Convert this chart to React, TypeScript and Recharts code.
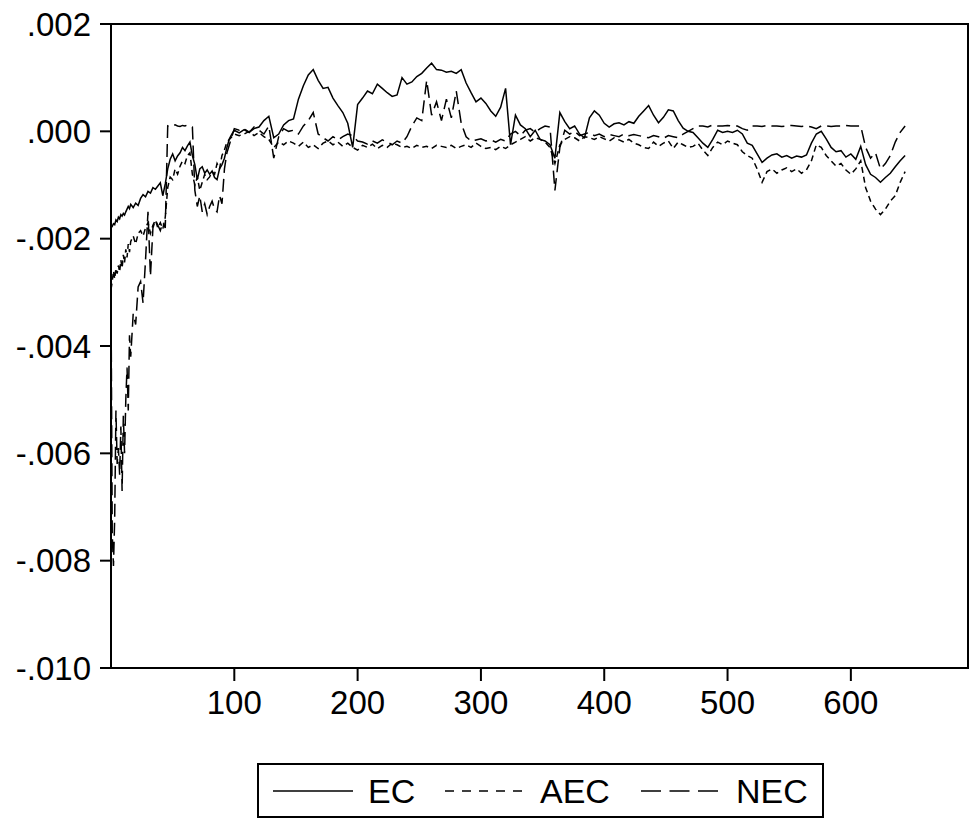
import React from "react";
import { LineChart, Line, XAxis, YAxis, ReferenceArea, Legend } from "recharts";

// observation index (x axis)
const OBS = [
  0, 1, 2, 3, 4, 5, 6, 7, 8, 9,
  10, 11, 12, 13, 14, 15, 16, 18, 20, 22,
  24, 26, 28, 30, 32, 34, 36, 38, 40, 42,
  44, 46, 48, 50, 52, 54, 56, 58, 60, 62,
  64, 66, 68, 70, 72, 74, 76, 78, 80, 82,
  84, 86, 88, 90, 92, 94, 96, 98, 100, 104,
  108, 112, 116, 120, 124, 128, 132, 136, 140, 144,
  148, 152, 156, 160, 164, 168, 172, 176, 180, 184,
  188, 192, 196, 200, 204, 208, 212, 216, 220, 224,
  228, 232, 236, 240, 244, 248, 252, 256, 260, 264,
  268, 272, 276, 280, 284, 288, 292, 296, 300, 304,
  308, 312, 316, 320, 324, 328, 332, 336, 340, 344,
  348, 352, 356, 360, 364, 368, 372, 376, 380, 384,
  388, 392, 396, 400, 404, 408, 412, 416, 420, 424,
  428, 432, 436, 440, 444, 448, 452, 456, 460, 464,
  468, 472, 476, 480, 484, 488, 492, 496, 500, 504,
  508, 512, 516, 520, 524, 528, 532, 536, 540, 544,
  548, 552, 556, 560, 564, 568, 572, 576, 580, 584,
  588, 592, 596, 600, 604, 608, 612, 616, 620, 624,
  628, 632, 636, 640, 644,
];

// values in units of 0.001
const EC = [
  -1.8, -1.77, -1.72, -1.74, -1.65, -1.68, -1.6, -1.63, -1.55, -1.58,
  -1.53, -1.56, -1.5, -1.45, -1.4, -1.44, -1.36, -1.42, -1.34, -1.38,
  -1.25, -1.18, -1.22, -1.12, -1.15, -1.05, -1.08, -1.02, -0.96, -1.2,
  -0.98, -0.7, -0.52, -0.42, -0.55, -0.46, -0.4, -0.3, -0.36, -0.27,
  -0.2, -0.45, -0.62, -0.9, -0.7, -0.66, -0.78, -0.72, -0.8, -0.74,
  -0.86, -0.9, -0.7, -0.62, -0.5, -0.3, -0.14, -0.05, 0.02, -0.03,
  0.03, -0.02, 0.05, 0.08, 0.2, 0.28, -0.12, -0.05, 0.12, 0.2,
  0.23, 0.6, 0.85, 1.05, 1.15, 0.95, 0.8, 0.82, 0.62, 0.48,
  0.35, 0.15, -0.3, 0.5, 0.62, 0.75, 0.7, 0.88, 0.8, 0.72,
  0.65, 0.68, 1.0, 0.88, 0.92, 1.02, 1.08, 1.18, 1.27, 1.15,
  1.14, 1.1, 1.12, 1.08, 1.15, 0.9, 0.72, 0.55, 0.62, 0.52,
  0.38, 0.28, 0.45, 0.8, -0.25, 0.3, 0.12, 0.05, -0.1, 0.02,
  -0.15, -0.18, -0.25, -0.5, 0.35, 0.18, 0.05, 0.1, -0.05, -0.12,
  0.25, 0.38, 0.3, 0.15, 0.08, 0.14, 0.16, 0.12, 0.18, 0.15,
  0.28, 0.38, 0.48, 0.3, 0.16, 0.26, 0.4, 0.38, 0.2, 0.06,
  0.0, -0.02, -0.12, -0.22, -0.3, -0.15, 0.02, -0.02, 0.0, -0.02,
  0.02, -0.05, -0.22, -0.26, -0.42, -0.58, -0.5, -0.44, -0.42, -0.48,
  -0.45, -0.5, -0.46, -0.48, -0.44, -0.22, -0.05, 0.0, -0.14, -0.3,
  -0.38, -0.36, -0.48, -0.42, -0.52, -0.28, -0.62, -0.8, -0.86, -0.95,
  -0.86, -0.78, -0.66, -0.55, -0.45,
];

const AEC = [
  -2.95, -2.8, -2.6, -2.75, -2.55, -2.65, -2.5, -2.62, -2.4, -2.55,
  -2.3, -2.45, -2.2, -2.35, -2.1, -2.25, -2.05, -1.95, -2.1, -1.9,
  -1.85, -1.95, -1.8, -1.7, -1.9, -1.75, -1.65, -1.8, -1.7, -1.82,
  -1.6, -1.05, -0.85, -0.9, -0.7, -0.8, -0.65, -0.55, -0.6, -0.45,
  -0.4, -0.8, -1.0, -0.85, -1.1, -0.95, -0.8, -0.9, -0.85, -0.75,
  -0.8, -0.6, -0.7, -0.45, -0.35, -0.2, -0.15, -0.1, -0.05, -0.08,
  -0.05, 0.0, -0.08, -0.02, -0.1, -0.15, -0.3, -0.2, -0.25, -0.18,
  -0.22, -0.28, -0.2, -0.3, -0.25, -0.32, -0.22, -0.18, -0.25, -0.2,
  -0.28, -0.22, -0.3, -0.35, -0.26, -0.3, -0.24, -0.32, -0.26, -0.3,
  -0.22, -0.25, -0.3, -0.28, -0.32, -0.26, -0.3, -0.28, -0.32, -0.26,
  -0.28, -0.3, -0.26, -0.32, -0.28, -0.25, -0.3, -0.22, -0.28, -0.32,
  -0.3, -0.34, -0.28, -0.32, -0.25, -0.2, -0.15, -0.1, -0.18, -0.12,
  -0.15, -0.2, -0.3, -0.6, -0.25, -0.15, -0.1, -0.12, -0.18, -0.1,
  -0.12, -0.15, -0.1, -0.14, -0.18, -0.12, -0.16, -0.2, -0.15, -0.22,
  -0.25, -0.3, -0.32, -0.2, -0.28, -0.22, -0.18, -0.32, -0.2, -0.25,
  -0.3, -0.28, -0.22, -0.35, -0.45, -0.3, -0.2, -0.25, -0.18, -0.22,
  -0.25, -0.38, -0.45, -0.5, -0.7, -0.95, -0.75, -0.7, -0.78, -0.72,
  -0.68, -0.75, -0.7, -0.78, -0.72, -0.55, -0.25, -0.3, -0.45, -0.55,
  -0.65, -0.6, -0.72, -0.8, -0.7, -0.55, -1.05, -1.3, -1.45, -1.55,
  -1.45, -1.3, -1.2, -0.95, -0.75,
];

const NEC = [
  -3.0, -7.5, -8.1, -7.2, -5.2, -6.2, -5.9, -6.4, -5.5, -6.7,
  -5.3, -6.0, -5.0, -4.4, -5.2, -3.8, -4.2, -3.4, -3.6, -2.9,
  -2.8, -3.2, -2.4, -1.5, -2.7, -1.8, -1.65, -1.75, -1.85, -1.7,
  -1.8, 0.1, 0.08, 0.1, 0.12, 0.1, 0.09, 0.11, 0.1, 0.12,
  0.1, 0.08, -1.1, -1.4, -1.2, -1.5, -1.35, -1.55, -1.4, -1.3,
  -1.45, -1.5, -1.2, -1.35, -0.7, -0.4, -0.25, -0.1, 0.05, 0.02,
  0.05, -0.02, 0.08, 0.02, -0.05, 0.1, -0.5, -0.1, 0.05, 0.0,
  0.02, -0.05, 0.1, 0.2, 0.35, -0.05, -0.12, -0.18, -0.1, -0.16,
  -0.1, -0.05, -0.08, -0.18, -0.2, -0.24, -0.18, -0.22, -0.16, -0.2,
  -0.25, -0.18, -0.22, -0.1, 0.1, 0.25, 0.2, 0.95, 0.3, 0.55,
  0.2, 0.6, 0.25, 0.75, 0.15, -0.1, -0.18, -0.16, -0.14, -0.18,
  -0.16, -0.2, -0.15, -0.18, -0.05, 0.0, -0.08, 0.02, 0.05, -0.02,
  0.05, 0.1, 0.08, -1.1, -0.3, 0.02, -0.05, 0.0, -0.08, -0.05,
  -0.02, -0.08, -0.05, -0.1, -0.06, -0.08, -0.1, -0.05, -0.08, -0.06,
  -0.08, -0.1, -0.12, -0.08, -0.1, -0.13, -0.08, -0.1, -0.12, -0.05,
  0.0, 0.05, 0.1, 0.1, 0.08, 0.12, 0.1, 0.1, 0.11, 0.1,
  0.1, 0.05, 0.02, 0.1, 0.1, 0.09, 0.11, 0.1, 0.1, 0.09,
  0.1, 0.11, 0.1, 0.09, 0.1, 0.08, 0.05, 0.1, 0.1, 0.09,
  0.1, 0.1, 0.11, 0.1, 0.1, 0.1, -0.3, -0.5, -0.4, -0.7,
  -0.6, -0.45, -0.2, -0.02, 0.1,
];

const Y_TICKS = [-0.01, -0.008, -0.006, -0.004, -0.002, 0, 0.002];
const X_TICKS = [100, 200, 300, 400, 500, 600];
const SCALE = 0.001;

const data = OBS.map((o, i) => ({
  obs: o,
  ec: EC[i] * SCALE,
  aec: AEC[i] * SCALE,
  nec: NEC[i] * SCALE,
}));

const FONT = "'Liberation Sans', Arial, sans-serif";

// eviews style: .002, -.004
const fmtY = (v: number) => {
  const s = (Math.abs(v) < 1e-9 ? 0 : v).toFixed(3);
  return s.replace("0.", ".");
};

function LegendBox() {
  return (
    <svg width={567} height={55} style={{ display: "block" }}>
      <rect x={1} y={1} width={565} height={53} fill="#fff" stroke="#000" strokeWidth={2} />
      <line x1={16} x2={96} y1={28} y2={28} stroke="#000" strokeWidth={1.6} />
      <text x={111} y={40} fontSize={34} fontFamily={FONT}>EC</text>
      <line x1={188} x2={265} y1={28} y2={28} stroke="#000" strokeWidth={1.6} strokeDasharray="9 8" />
      <text x={283} y={40} fontSize={34} fontFamily={FONT}>AEC</text>
      <line x1={384} x2={461} y1={28} y2={28} stroke="#000" strokeWidth={1.6} strokeDasharray="20 8.5" />
      <text x={479} y={40} fontSize={34} fontFamily={FONT}>NEC</text>
    </svg>
  );
}

export default function App() {
  const tickStyle = { fontSize: 33, fill: "#000", fontFamily: FONT };
  return (
    <div style={{ position: "absolute", left: 0, top: 0, background: "#fff" }}>
      <LineChart
        width={971}
        height={826}
        data={data}
        margin={{ top: 24, right: 3, bottom: 98, left: 0 }}
      >
        <XAxis
          dataKey="obs"
          type="number"
          domain={[0, 695]}
          ticks={X_TICKS}
          height={60}
          tick={tickStyle}
          tickSize={13}
          tickMargin={10}
          axisLine={{ stroke: "#000", strokeWidth: 2 }}
          tickLine={{ stroke: "#000", strokeWidth: 2 }}
          allowDataOverflow
        />
        <YAxis
          type="number"
          domain={[-0.01, 0.002]}
          ticks={Y_TICKS}
          width={111}
          tick={tickStyle}
          tickSize={11}
          tickMargin={9}
          tickFormatter={fmtY}
          axisLine={{ stroke: "#000", strokeWidth: 2 }}
          tickLine={{ stroke: "#000", strokeWidth: 2 }}
          allowDataOverflow
        />
        <ReferenceArea
          x1={0}
          x2={695}
          y1={-0.01}
          y2={0.002}
          fill="none"
          stroke="#000"
          strokeWidth={2}
          ifOverflow="visible"
        />
        <Line dataKey="ec" name="EC" type="linear" stroke="#000" strokeWidth={1.5} dot={false} isAnimationActive={false} />
        <Line dataKey="aec" name="AEC" type="linear" stroke="#000" strokeWidth={1.5} strokeDasharray="6 4" dot={false} isAnimationActive={false} />
        <Line dataKey="nec" name="NEC" type="linear" stroke="#000" strokeWidth={1.5} strokeDasharray="13 6" dot={false} isAnimationActive={false} />
        <Legend
          layout="vertical"
          align="center"
          verticalAlign="middle"
          wrapperStyle={{ position: "absolute", left: 257, top: 763, width: 567, height: 55 }}
          content={() => <LegendBox />}
        />
      </LineChart>
    </div>
  );
}
